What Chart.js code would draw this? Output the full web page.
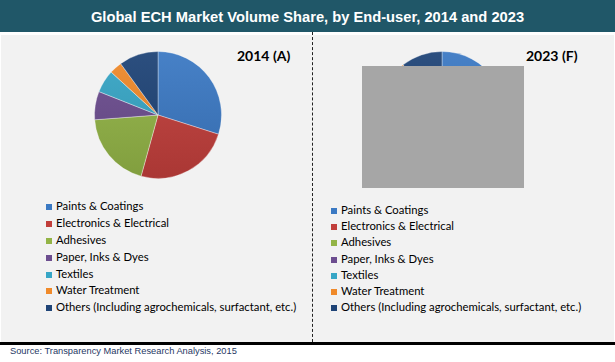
<!DOCTYPE html>
<html>
<head>
<meta charset="utf-8">
<script src="https://cdn.jsdelivr.net/npm/chart.js@4.4.1/dist/chart.umd.min.js"></script>
<style>
  body { margin: 0; width: 615px; height: 362px; background: #fff; position: relative; overflow: hidden; font-family: "Liberation Sans", Arial, sans-serif; }
  #title { position: absolute; left: 0; top: 0; width: 615px; height: 32px; background: #205768; color: #fff; font-weight: bold; font-size: 14.7px; line-height: 34px; text-align: center; }
  #panel { position: absolute; left: 1px; top: 35px; width: 613px; height: 307px; background: #f2f2f2; }
  #rule { position: absolute; left: 0; top: 342px; width: 615px; height: 3px; background: #000; }
  #divider { position: absolute; left: 312px; top: 32px; height: 310px; border-left: 1px dashed #222; }
  .year { position: absolute; font-family: Lato, "Noto Sans", sans-serif; font-weight: bold; font-size: 14px; color: #000; }
  .pie { position: absolute; }
  .legend { position: absolute; font-family: Lato, "Noto Sans", sans-serif; font-size: 11.3px; color: #000; }
  .legend div { white-space: nowrap; }
  .legend span { display: inline-block; width: 6px; height: 6px; margin-right: 4px; vertical-align: 0px; }
  #mask { position: absolute; left: 362px; top: 66px; width: 162px; height: 122px; background: #a6a6a6; }
  #source { position: absolute; left: 10px; top: 346px; font-size: 9.3px; color: #1f3864; }
</style>
</head>
<body>
<div id="title">Global ECH Market Volume Share, by End-user, 2014 and 2023</div>
<div id="panel"></div>
<div id="divider"></div>
<div id="rule"></div>
<div class="year" style="left:237px; top:47px;">2014 (A)</div>
<div class="year" style="left:526px; top:47px;">2023 (F)</div>
<canvas id="pie2014" class="pie" width="128" height="128" style="left:94px; top:51px;"></canvas>
<canvas id="pie2023" class="pie" width="128" height="128" style="left:378px; top:51px;"></canvas>
<div id="mask"></div>
<div id="legend2014" class="legend" style="left:46px; top:198px;"></div>
<div id="legend2023" class="legend" style="left:331px; top:202px;"></div>
<div id="source">Source: Transparency Market Research Analysis, 2015</div>
<script>
const categories = [
  'Paints & Coatings',
  'Electronics & Electrical',
  'Adhesives',
  'Paper, Inks & Dyes',
  'Textiles',
  'Water Treatment',
  'Others (Including agrochemicals, surfactant, etc.)'
];
const share2014 = [29.9, 24.4, 19.5, 7.2, 5.8, 3.2, 10.0];
const share2023 = [31.0, 23.0, 19.0, 7.0, 6.0, 3.5, 10.5];
const colors = ['#3b79c3', '#c13e3b', '#93b446', '#6c4d8f', '#37a6c6', '#f08a2a', '#1f4477'];

// lighten (amt > 0) or darken (amt < 0) a hex colour
function shade(hex, amt) {
  const n = parseInt(hex.slice(1), 16);
  const f = c => Math.max(0, Math.min(255, Math.round(amt > 0 ? c + (255 - c) * amt : c * (1 + amt))));
  const r = f(n >> 16), g = f((n >> 8) & 255), b = f(n & 255);
  return `rgb(${r},${g},${b})`;
}

function drawPie(id, values) {
  new Chart(document.getElementById(id), {
    type: 'pie',
    data: {
      labels: categories,
      datasets: [{
        data: values,
        backgroundColor: ctx => {
          const area = ctx.chart.chartArea;
          const base = colors[ctx.dataIndex];
          if (!area) return base;
          const g = ctx.chart.ctx.createLinearGradient(0, area.top, 0, area.bottom);
          g.addColorStop(0, shade(base, 0.06));
          g.addColorStop(1, shade(base, -0.12));
          return g;
        },
        borderColor: 'rgba(255,255,255,0.35)',
        borderWidth: 1
      }]
    },
    options: {
      responsive: false,
      devicePixelRatio: 1,
      animation: false,
      layout: { padding: 0 },
      plugins: {
        legend: { display: false },
        tooltip: { enabled: false }
      }
    }
  });
}

function drawLegend(id, rowHeight) {
  const box = document.getElementById(id);
  categories.forEach((name, i) => {
    const row = document.createElement('div');
    row.style.height = rowHeight + 'px';
    row.style.lineHeight = rowHeight + 'px';
    const sw = document.createElement('span');
    sw.style.background = colors[i];
    row.appendChild(sw);
    row.appendChild(document.createTextNode(name));
    box.appendChild(row);
  });
}

drawPie('pie2014', share2014);
drawPie('pie2023', share2023);
drawLegend('legend2014', 16.9);
drawLegend('legend2023', 16.2);
</script>
</body>
</html>
